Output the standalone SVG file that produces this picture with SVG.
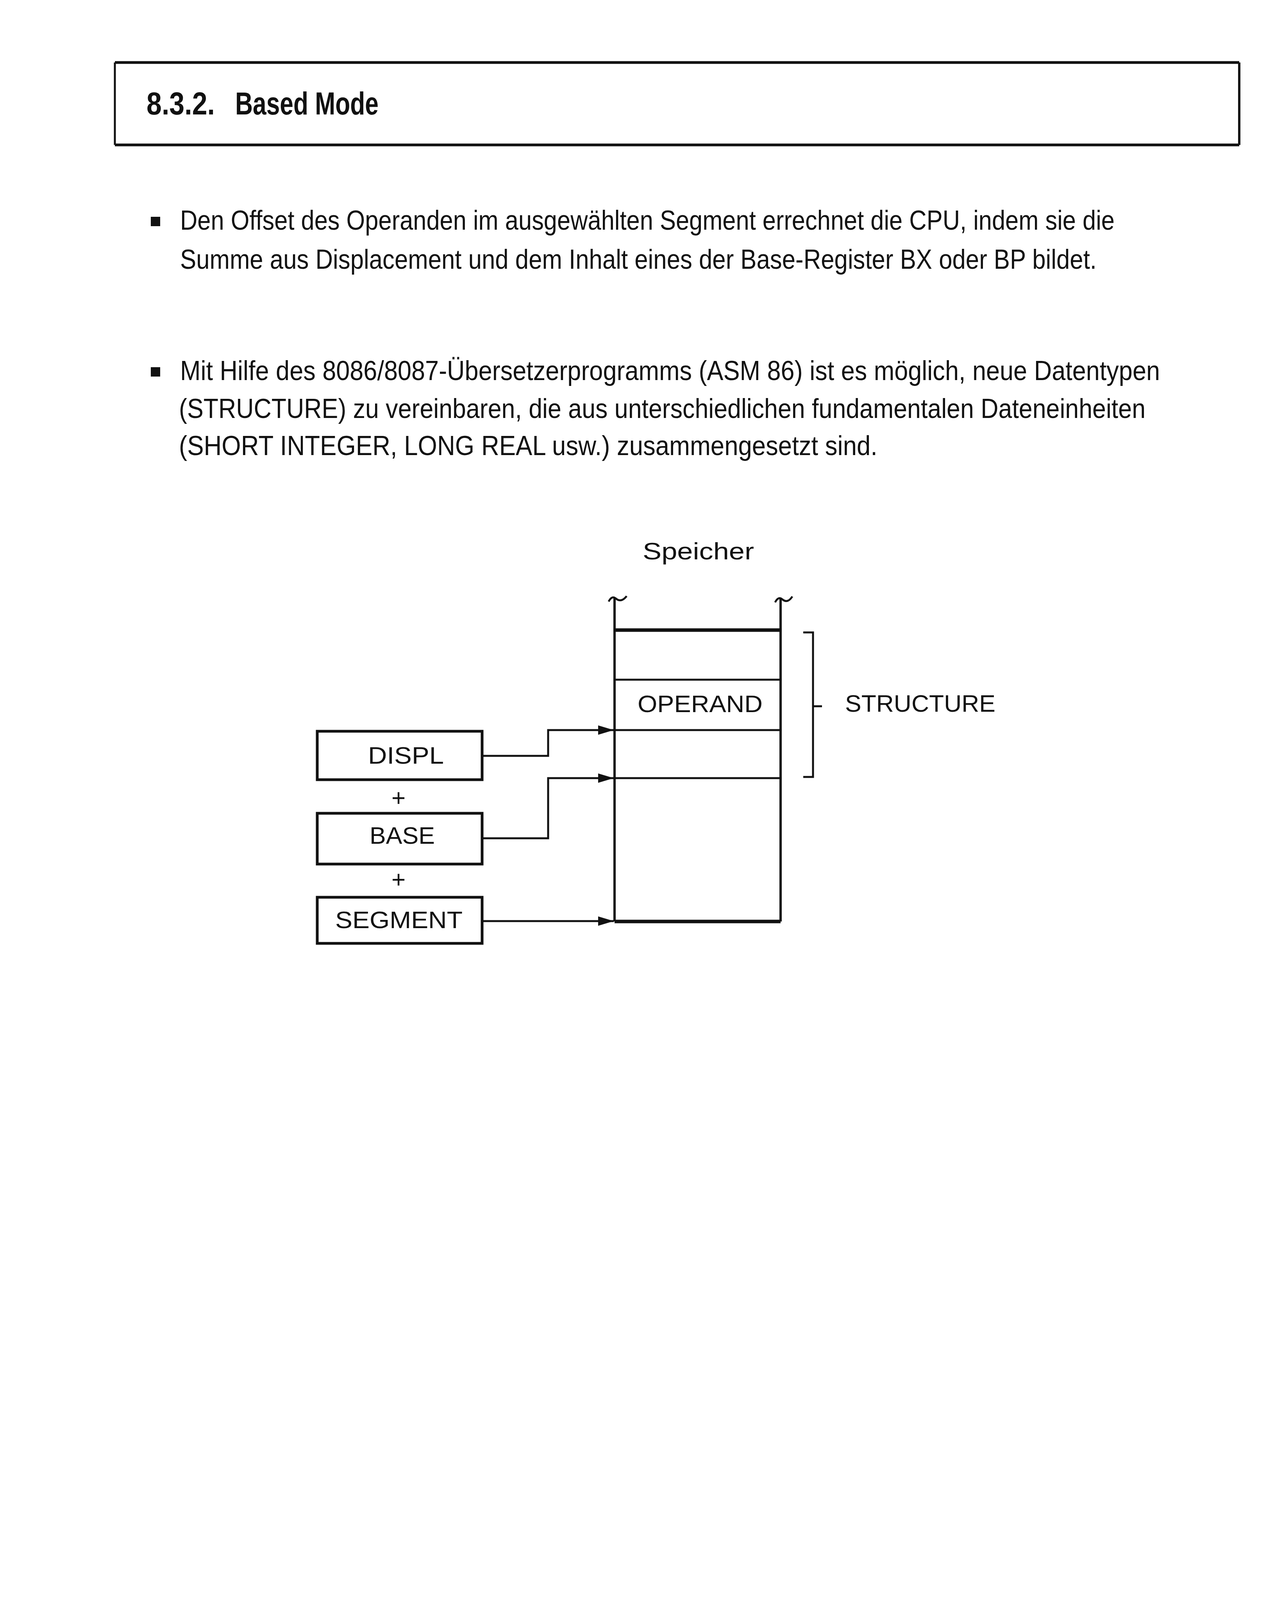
<svg xmlns="http://www.w3.org/2000/svg" width="3284" height="5055" viewBox="0 0 3284 5055">
<style>
.body{font-family:"Liberation Sans",Arial,sans-serif;font-size:70px;fill:#111}
.bold{font-family:"Liberation Sans",Arial,sans-serif;font-weight:bold;fill:#111}
.lbl{font-family:"Liberation Sans",Arial,sans-serif;font-size:62px;fill:#111}
.box{fill:#fff;stroke:#111;stroke-width:7}
.ln{fill:none;stroke:#111;stroke-width:5}
.col{fill:none;stroke:#111;stroke-width:6}
.thick{fill:none;stroke:#111;stroke-width:9}
.conn{fill:none;stroke:#111;stroke-width:5}
</style>
<defs>
<marker id="arr" markerUnits="userSpaceOnUse" markerWidth="42" markerHeight="26" refX="40" refY="12" orient="auto">
<path d="M0,0 L40,12 L0,24 z" fill="#111"/>
</marker>
</defs>
<rect width="3284" height="5055" fill="#fff"/>

<g id="title">
<line x1="294" y1="160" x2="3172" y2="160" stroke="#111" stroke-width="7"/>
<line x1="294" y1="371" x2="3172" y2="371" stroke="#111" stroke-width="7"/>
<line x1="294" y1="160" x2="294" y2="371" stroke="#111" stroke-width="5"/>
<line x1="3172" y1="160" x2="3172" y2="371" stroke="#111" stroke-width="6"/>
<text class="bold" x="375" y="293" font-size="82" textLength="175" lengthAdjust="spacingAndGlyphs">8.3.2.</text>
<text class="bold" x="602" y="293" font-size="82" textLength="367" lengthAdjust="spacingAndGlyphs">Based Mode</text>
</g>

<g id="text">
<rect x="386" y="555" width="24" height="24" fill="#111"/>
<text class="body" x="461" y="588" textLength="2392" lengthAdjust="spacingAndGlyphs">Den Offset des Operanden im ausgewählten Segment errechnet die CPU, indem sie die</text>
<text class="body" x="461" y="688" textLength="2346" lengthAdjust="spacingAndGlyphs">Summe aus Displacement und dem Inhalt eines der Base-Register BX oder BP bildet.</text>
<rect x="386" y="940" width="24" height="24" fill="#111"/>
<text class="body" x="461" y="973" textLength="2508" lengthAdjust="spacingAndGlyphs">Mit Hilfe des 8086/8087-Übersetzerprogramms (ASM 86) ist es möglich, neue Datentypen</text>
<text class="body" x="458" y="1070" textLength="2474" lengthAdjust="spacingAndGlyphs">(STRUCTURE) zu vereinbaren, die aus unterschiedlichen fundamentalen Dateneinheiten</text>
<text class="body" x="458" y="1165" textLength="1788" lengthAdjust="spacingAndGlyphs">(SHORT INTEGER, LONG REAL usw.) zusammengesetzt sind.</text>
</g>

<g id="speicher">
<text class="lbl" x="1645" y="1432" textLength="285" lengthAdjust="spacingAndGlyphs">Speicher</text>
<path class="col" d="M1573,1530 V2359 M1998,1530 V2359"/>
<path fill="none" stroke="#111" stroke-width="5" d="M1558,1540 Q1566,1524 1576,1532 Q1590,1544 1604,1526"/>
<path fill="none" stroke="#111" stroke-width="5" d="M1984,1542 Q1992,1526 2002,1534 Q2016,1546 2028,1527"/>
<line class="thick" x1="1573" y1="1613" x2="1998" y2="1613"/>
<line class="ln" x1="1573" y1="1740" x2="1998" y2="1740"/>
<line class="ln" x1="1573" y1="1869" x2="1998" y2="1869"/>
<line class="ln" x1="1573" y1="1992" x2="1998" y2="1992"/>
<line class="thick" x1="1573" y1="2359" x2="1998" y2="2359"/>
<text class="lbl" x="1632" y="1823" textLength="320" lengthAdjust="spacingAndGlyphs">OPERAND</text>
</g>

<g id="structure">
<path class="ln" d="M2056,1619 H2081 V1989 H2056 M2081,1808 H2104"/>
<text class="lbl" x="2163" y="1822" textLength="385" lengthAdjust="spacingAndGlyphs">STRUCTURE</text>
</g>

<g id="displ">
<rect class="box" x="812" y="1872" width="422" height="124"/>
<text class="lbl" x="942" y="1955" textLength="194" lengthAdjust="spacingAndGlyphs">DISPL</text>
</g>
<text class="lbl" x="1020" y="2063" font-size="72" text-anchor="middle">+</text>
<g id="base">
<rect class="box" x="812" y="2082" width="422" height="130"/>
<text class="lbl" x="946" y="2160" textLength="167" lengthAdjust="spacingAndGlyphs">BASE</text>
</g>
<text class="lbl" x="1020" y="2272" font-size="72" text-anchor="middle">+</text>
<g id="segment">
<rect class="box" x="812" y="2297" width="422" height="118"/>
<text class="lbl" x="858" y="2376" textLength="326" lengthAdjust="spacingAndGlyphs">SEGMENT</text>
</g>

<g id="connectors">
<path class="conn" d="M1234,1935 H1403 V1869 H1571" marker-end="url(#arr)"/>
<path class="conn" d="M1234,2146 H1403 V1992 H1571" marker-end="url(#arr)"/>
<path class="conn" d="M1234,2358 H1571" marker-end="url(#arr)"/>
</g>

<g id="page">
<text class="bold" x="287" y="4772" font-size="86" textLength="113" lengthAdjust="spacingAndGlyphs">156</text>
</g>
</svg>
